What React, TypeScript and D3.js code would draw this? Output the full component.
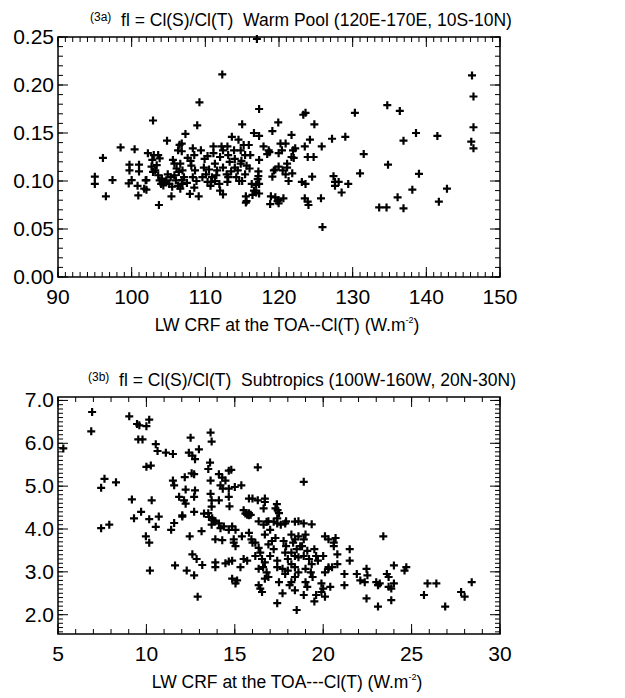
import React from 'react';
import * as d3 from 'd3';

// (3a) Warm Pool: [LW CRF, fl]
const warmPoolPoints: [number, number][] = [
  [117.0, 0.248], [112.3, 0.211], [146.2, 0.210], [146.4, 0.188],
  [109.2, 0.182], [134.7, 0.179], [136.4, 0.173], [117.3, 0.175], [123.3, 0.169], [123.6, 0.171], [130.3, 0.171],
  [102.9, 0.163], [108.9, 0.158], [115.0, 0.159], [119.9, 0.161], [124.8, 0.159], [146.4, 0.156],
  [138.6, 0.150], [141.5, 0.147], [129.0, 0.146], [107.3, 0.149],
  [98.5, 0.135], [96.1, 0.124], [95.0, 0.1045], [95.0, 0.097], [96.5, 0.084], [97.4, 0.101],
  [100.4, 0.133], [99.7, 0.117], [99.7, 0.111], [99.6, 0.0975], [101.0, 0.117], [101.0, 0.110], [100.9, 0.085],
  [102.0, 0.101], [102.0, 0.091], [102.2, 0.129], [104.8, 0.142], [103.7, 0.075], [105.4, 0.084],
  [107.9, 0.0865], [109.1, 0.084], [113.6, 0.146], [114.5, 0.143], [115.2, 0.1375], [115.9, 0.1375],
  [116.6, 0.150], [117.3, 0.147], [117.3, 0.122], [117.2, 0.110], [117.2, 0.105], [115.5, 0.084], [115.5, 0.0775],
  [116.4, 0.0855], [117.3, 0.087], [116.9, 0.096],
  [119.1, 0.152], [120.9, 0.139], [121.7, 0.148], [122.2, 0.134], [117.9, 0.136], [118.6, 0.132], [118.4, 0.128],
  [119.95, 0.129], [119.3, 0.111], [119.1, 0.1045], [119.95, 0.115], [121.1, 0.118], [122.0, 0.124], [121.8, 0.108],
  [118.9, 0.084], [118.8, 0.076], [119.95, 0.080], [120.6, 0.082], [119.95, 0.0767],
  [123.1, 0.099], [123.5, 0.136], [124.2, 0.143], [123.9, 0.125], [124.7, 0.125], [124.5, 0.1045], [123.5, 0.082],
  [123.9, 0.0785], [124.0, 0.075], [125.7, 0.082], [125.9, 0.052], [125.8, 0.136], [127.2, 0.144], [127.4, 0.105],
  [127.6, 0.099], [128.1, 0.099], [127.6, 0.095], [128.5, 0.088], [129.4, 0.097], [131.5, 0.128], [131.0, 0.108],
  [133.6, 0.0725], [134.6, 0.0725], [134.8, 0.117], [136.1, 0.083], [136.9, 0.0715], [136.9, 0.142], [138.1, 0.091],
  [139.0, 0.1075], [141.7, 0.0785], [142.8, 0.092], [146.1, 0.141], [146.4, 0.134],
  [100.0, 0.101], [101.9, 0.1007], [100.8, 0.095], [101.7, 0.092],
  [103.0, 0.127], [102.8, 0.122], [102.7, 0.115], [102.9, 0.1095], [103.6, 0.127], [103.8, 0.1236], [103.4, 0.1165],
  [103.2, 0.111], [103.6, 0.106], [103.8, 0.1007], [104.1, 0.1025], [104.5, 0.099], [104.0, 0.097], [104.3, 0.0954],
  [104.7, 0.1007], [105.1, 0.097], [105.3, 0.104], [105.6, 0.122], [105.8, 0.118], [106.1, 0.113], [106.3, 0.132],
  [106.5, 0.1377], [106.0, 0.1007], [106.3, 0.095], [106.6, 0.092], [106.4, 0.1095], [105.8, 0.106],
  [106.8, 0.139], [106.8, 0.131], [106.6, 0.118], [106.9, 0.111], [107.1, 0.104], [106.9, 0.097],
  [108.3, 0.134], [108.5, 0.127], [108.1, 0.116], [108.6, 0.111], [108.3, 0.104], [108.8, 0.100], [108.5, 0.093],
  [109.4, 0.132], [109.9, 0.123], [109.8, 0.114], [110.1, 0.107], [110.5, 0.112], [109.6, 0.104], [110.3, 0.099],
  [110.7, 0.095], [110.9, 0.104], [111.1, 0.136], [111.1, 0.129], [111.3, 0.118], [111.6, 0.111], [111.3, 0.100],
  [112.2, 0.136], [112.4, 0.132], [112.0, 0.125], [112.4, 0.114], [112.0, 0.090], [112.4, 0.086],
  [113.0, 0.136], [113.1, 0.127], [113.3, 0.120], [112.9, 0.107], [113.1, 0.104], [113.0, 0.099],
  [113.9, 0.132], [114.0, 0.123], [114.0, 0.114], [114.4, 0.111], [114.8, 0.118], [114.2, 0.104], [114.6, 0.100],
  [114.8, 0.132], [115.4, 0.127], [115.6, 0.116], [115.4, 0.107], [115.0, 0.100],
  [116.1, 0.127], [116.3, 0.097], [116.6, 0.090], [115.6, 0.079], [117.1, 0.102], [117.3, 0.097], [116.9, 0.088],
  [118.7, 0.130], [119.5, 0.112], [119.5, 0.083], [119.8, 0.079], [120.2, 0.139], [120.4, 0.132], [121.1, 0.114],
  [121.7, 0.125], [121.9, 0.132], [120.5, 0.111], [120.9, 0.107], [121.3, 0.100], [123.6, 0.097],
  [105.5, 0.094], [106.8, 0.101], [107.5, 0.098], [110.8, 0.099], [111.5, 0.106], [111.9, 0.097], [104.9, 0.107],
  [108.0, 0.121], [110.3, 0.126], [113.5, 0.110], [114.9, 0.121], [116.0, 0.113], [107.6, 0.124],
];

// (3b) Subtropics: [LW CRF, fl]
const subtropicsPoints: [number, number][] = [
  [5.3, 5.88], [6.93, 6.73], [6.88, 6.28], [9.03, 6.63], [9.47, 6.45], [9.6, 6.42], [10.0, 6.4], [10.16, 6.55],
  [9.54, 6.09], [9.78, 6.09], [10.53, 5.98], [10.63, 5.82], [11.1, 5.78], [11.5, 5.75], [10.0, 5.45], [10.25, 5.48],
  [7.44, 4.96], [7.63, 5.17], [8.28, 5.09], [9.18, 4.69], [10.3, 4.67], [11.5, 5.13], [11.57, 5.02],
  [12.5, 6.13], [13.63, 6.25], [13.69, 6.04], [12.4, 5.78], [12.6, 5.71], [12.75, 5.63], [12.97, 5.86],
  [12.17, 5.21], [12.56, 5.3], [12.7, 5.28], [12.22, 4.92], [12.75, 4.9], [11.85, 4.75], [12.13, 4.67], [12.22, 4.59],
  [12.7, 4.75], [12.7, 4.4], [12.03, 4.32], [13.6, 5.55], [13.5, 5.4], [13.63, 5.13],
  [14.1, 5.28], [14.29, 5.2], [14.47, 5.13], [14.66, 5.36], [14.8, 5.38], [14.19, 5.02], [14.32, 4.94], [14.66, 4.94],
  [15.0, 4.98], [15.37, 5.02], [13.63, 4.82], [13.69, 4.67], [13.69, 4.52], [14.1, 4.67], [14.66, 4.75], [14.7, 4.53],
  [13.26, 4.36], [13.54, 4.28], [13.8, 4.2], [14.1, 4.13], [15.5, 4.44], [15.6, 4.36], [15.8, 4.32],
  [15.8, 4.71], [16.0, 4.71], [16.3, 4.67], [16.7, 4.71], [16.3, 5.44], [16.63, 4.48], [16.7, 4.63],
  [17.38, 4.58], [17.42, 4.44], [16.8, 4.17], [17.2, 4.17], [17.4, 4.13], [17.6, 4.1], [17.85, 4.13], [18.4, 4.17],
  [18.9, 4.13], [19.35, 4.11], [18.9, 5.1],
  [7.44, 4.02], [7.9, 4.1], [9.3, 4.25], [9.7, 4.4], [10.16, 4.23], [10.7, 4.29], [9.97, 3.83], [10.16, 3.68],
  [10.2, 3.03], [10.53, 4.05], [11.4, 3.98], [11.57, 4.14], [12.03, 4.29], [11.62, 3.15], [12.28, 3.03], [12.7, 2.92],
  [12.45, 3.83], [12.6, 3.41], [12.84, 3.3], [13.16, 3.16], [12.9, 2.42], [13.12, 3.95],
  [13.5, 4.37], [13.72, 4.25], [13.69, 4.1], [13.9, 4.18], [13.9, 3.76], [14.29, 3.74], [14.19, 4.02], [14.38, 4.06],
  [13.9, 3.11], [13.9, 3.22], [14.85, 4.06], [15.04, 3.98], [14.66, 3.98], [14.47, 3.2], [14.66, 3.24], [14.85, 3.26],
  [14.94, 3.68], [15.04, 3.6], [14.85, 2.84], [15.04, 2.73], [15.13, 2.8], [14.94, 3.76], [15.32, 3.11],
  [15.5, 3.3], [15.7, 3.26], [15.4, 3.83], [15.8, 3.91], [15.94, 3.76], [16.0, 3.68], [15.7, 4.33], [15.8, 4.37], [15.9, 4.33],
  [16.35, 4.18], [16.63, 4.1], [16.9, 4.18], [17.0, 3.98], [16.7, 3.87],
  [16.16, 3.68], [16.35, 3.56], [16.44, 3.45], [16.16, 3.37], [16.54, 3.3], [16.7, 3.22], [16.35, 3.07], [16.6, 3.11],
  [16.35, 2.69], [16.44, 2.61], [16.54, 2.53], [16.7, 2.84], [16.9, 3.64], [17.1, 3.72], [17.3, 3.79], [17.2, 3.53], [17.0, 3.37],
  [17.3, 4.48], [17.5, 4.37], [17.4, 4.25], [16.8, 2.99], [16.9, 2.88], [17.4, 3.26], [17.4, 3.11], [17.5, 2.76],
  [17.4, 2.27], [17.7, 2.5], [17.76, 3.72], [17.9, 3.6], [17.85, 3.45], [18.0, 3.3], [17.7, 3.07], [17.85, 2.95], [18.0, 3.03],
  [17.9, 4.18], [18.6, 4.18], [18.2, 3.87], [18.4, 3.76], [18.3, 3.68], [18.6, 3.83],
  [18.2, 3.45], [18.4, 3.37], [18.6, 3.34], [18.5, 3.53], [18.7, 3.6], [18.2, 3.18], [18.4, 3.11], [18.6, 2.99], [18.4, 2.88], [18.2, 2.76],
  [18.1, 2.69], [18.4, 2.57], [18.5, 2.11], [18.9, 3.76], [19.0, 3.87], [18.8, 3.6], [19.1, 3.49], [18.9, 3.37],
  [19.2, 3.3], [19.35, 3.18], [19.0, 3.07], [19.3, 2.99], [19.4, 2.88], [19.0, 2.76], [18.9, 2.46], [19.1, 2.65],
  [19.5, 2.31], [19.6, 2.46], [19.5, 3.53], [19.6, 3.37], [19.7, 3.26], [19.9, 2.73], [20.0, 2.61], [19.9, 2.53], [20.1, 2.42],
  [20.0, 3.37], [20.3, 3.11], [20.1, 2.99], [20.3, 3.07], [20.1, 3.83], [20.3, 3.76], [20.6, 3.68], [20.7, 3.79], [20.4, 2.65],
  [20.6, 3.6], [20.8, 3.41], [20.8, 3.18], [20.5, 3.11], [21.2, 2.95], [21.2, 2.69], [21.5, 3.53], [21.5, 3.26],
  [21.9, 2.95], [22.1, 2.8], [22.35, 2.76], [22.5, 2.92], [22.45, 3.07], [22.45, 2.38], [23.0, 2.76], [23.1, 2.69], [23.2, 2.73],
  [23.1, 2.19], [23.4, 3.83], [23.6, 2.95], [23.7, 2.88], [23.7, 2.65], [23.85, 2.61], [24.0, 2.73], [23.85, 2.34], [24.0, 3.15],
  [24.6, 3.03], [24.7, 3.11], [25.7, 2.46], [25.9, 2.73], [26.4, 2.73], [26.9, 2.19], [27.8, 2.53], [28.0, 2.42], [28.4, 2.76],
];

const warmXTicks = [90, 100, 110, 120, 130, 140, 150];
const warmYTicks = [0, 0.05, 0.1, 0.15, 0.2, 0.25];
const subXTicks = [5, 10, 15, 20, 25, 30];
const subYTicks = [2, 3, 4, 5, 6, 7];

const FONT = 'Liberation Sans, Arial, Helvetica, sans-serif';

function minorTicks(domain: number[], step: number) {
  const lo = Math.ceil(domain[0] / step - 1e-6);
  const hi = Math.floor(domain[1] / step + 1e-6);
  return d3.range(lo, hi + 1).map(i => i * step);
}

type PanelProps = {
  points: [number, number][];
  xDomain: [number, number];
  yDomain: [number, number];
  top: number;
  bottom: number;
  xTicks: number[];
  yTicks: number[];
  xMinor: number;
  yMinor: number;
  yFormat: string;
  tag: string;
  title: string;
  titleX: number;
  xLabel: string;
};

const LEFT = 58;
const RIGHT = 500;

function Panel(p: PanelProps) {
  const x = d3.scaleLinear().domain(p.xDomain).range([LEFT, RIGHT]);
  const y = d3.scaleLinear().domain(p.yDomain).range([p.bottom, p.top]);
  const fmt = d3.format(p.yFormat);
  const xMin = minorTicks(p.xDomain, p.xMinor);
  const yMin = minorTicks(p.yDomain, p.yMinor);
  const majLen = 10;
  const minLen = 5;
  const cx = (LEFT + RIGHT) / 2 + 8;

  return (
    <g>
      {/* title */}
      <text x={p.titleX} y={p.top - 11} fontFamily={FONT} style={{ whiteSpace: 'pre' }}>
        <tspan fontSize={12} dy={-5}>{p.tag}</tspan>
        <tspan fontSize={17.5} dy={5}>{'  ' + p.title}</tspan>
      </text>

      {/* minor + major ticks, all four sides */}
      <g stroke="#000" strokeWidth={1}>
        {xMin.map((v, i) => (
          <g key={'xm' + i}>
            <line x1={x(v)} x2={x(v)} y1={p.bottom} y2={p.bottom - minLen} />
            <line x1={x(v)} x2={x(v)} y1={p.top} y2={p.top + minLen} />
          </g>
        ))}
        {yMin.map((v, i) => (
          <g key={'ym' + i}>
            <line x1={LEFT} x2={LEFT + minLen} y1={y(v)} y2={y(v)} />
            <line x1={RIGHT} x2={RIGHT - minLen} y1={y(v)} y2={y(v)} />
          </g>
        ))}
        {p.xTicks.map((v, i) => (
          <g key={'xM' + i}>
            <line x1={x(v)} x2={x(v)} y1={p.bottom} y2={p.bottom - majLen} />
            <line x1={x(v)} x2={x(v)} y1={p.top} y2={p.top + majLen} />
          </g>
        ))}
        {p.yTicks.map((v, i) => (
          <g key={'yM' + i}>
            <line x1={LEFT} x2={LEFT + majLen} y1={y(v)} y2={y(v)} />
            <line x1={RIGHT} x2={RIGHT - majLen} y1={y(v)} y2={y(v)} />
          </g>
        ))}
      </g>

      {/* frame */}
      <rect x={LEFT} y={p.top} width={RIGHT - LEFT} height={p.bottom - p.top}
        fill="none" stroke="#000" strokeWidth={1.5} />

      {/* tick labels */}
      <g fontFamily={FONT} fontSize={21} fill="#000">
        {p.xTicks.map((v, i) => (
          <text key={'xl' + i} x={x(v)} y={p.bottom + 27} textAnchor="middle">{v}</text>
        ))}
        {p.yTicks.map((v, i) => (
          <text key={'yl' + i} x={LEFT - 4} y={y(v) + 7} textAnchor="end">{fmt(v)}</text>
        ))}
      </g>

      {/* x axis title */}
      <text x={cx} y={p.bottom + 54} textAnchor="middle" fontFamily={FONT} fontSize={17.5}>
        {p.xLabel}
        <tspan fontSize={9} dy={-8}>-2</tspan>
        <tspan dy={8}>)</tspan>
      </text>

      {/* points */}
      <g stroke="#000" strokeWidth={2.2} fill="none">
        {p.points.map((d, i) => (
          <path key={i} transform={`translate(${x(d[0])},${y(d[1])})`} d="M-4,0H4M0,-4V4" />
        ))}
      </g>
    </g>
  );
}

export default function App() {
  return (
    <svg width={625} height={698} style={{ position: 'absolute', left: 0, top: 0, background: '#fff' }}>
      <rect width={625} height={698} fill="#fff" />
      <Panel
        points={warmPoolPoints}
        xDomain={[90, 150]}
        yDomain={[0, 0.25]}
        top={37}
        bottom={277}
        xTicks={warmXTicks}
        yTicks={warmYTicks}
        xMinor={1}
        yMinor={0.01}
        yFormat=".2f"
        tag="(3a)"
        title="fl = Cl(S)/Cl(T)  Warm Pool (120E-170E, 10S-10N)"
        titleX={90}
        xLabel="LW CRF at the TOA--Cl(T) (W.m"
      />
      <Panel
        points={subtropicsPoints}
        xDomain={[5, 30]}
        yDomain={[1.55, 7.08]}
        top={397}
        bottom={634}
        xTicks={subXTicks}
        yTicks={subYTicks}
        xMinor={1}
        yMinor={0.1}
        yFormat=".1f"
        tag="(3b)"
        title="fl = Cl(S)/Cl(T)  Subtropics (100W-160W, 20N-30N)"
        titleX={88}
        xLabel="LW CRF at the TOA---Cl(T) (W.m"
      />
    </svg>
  );
}
